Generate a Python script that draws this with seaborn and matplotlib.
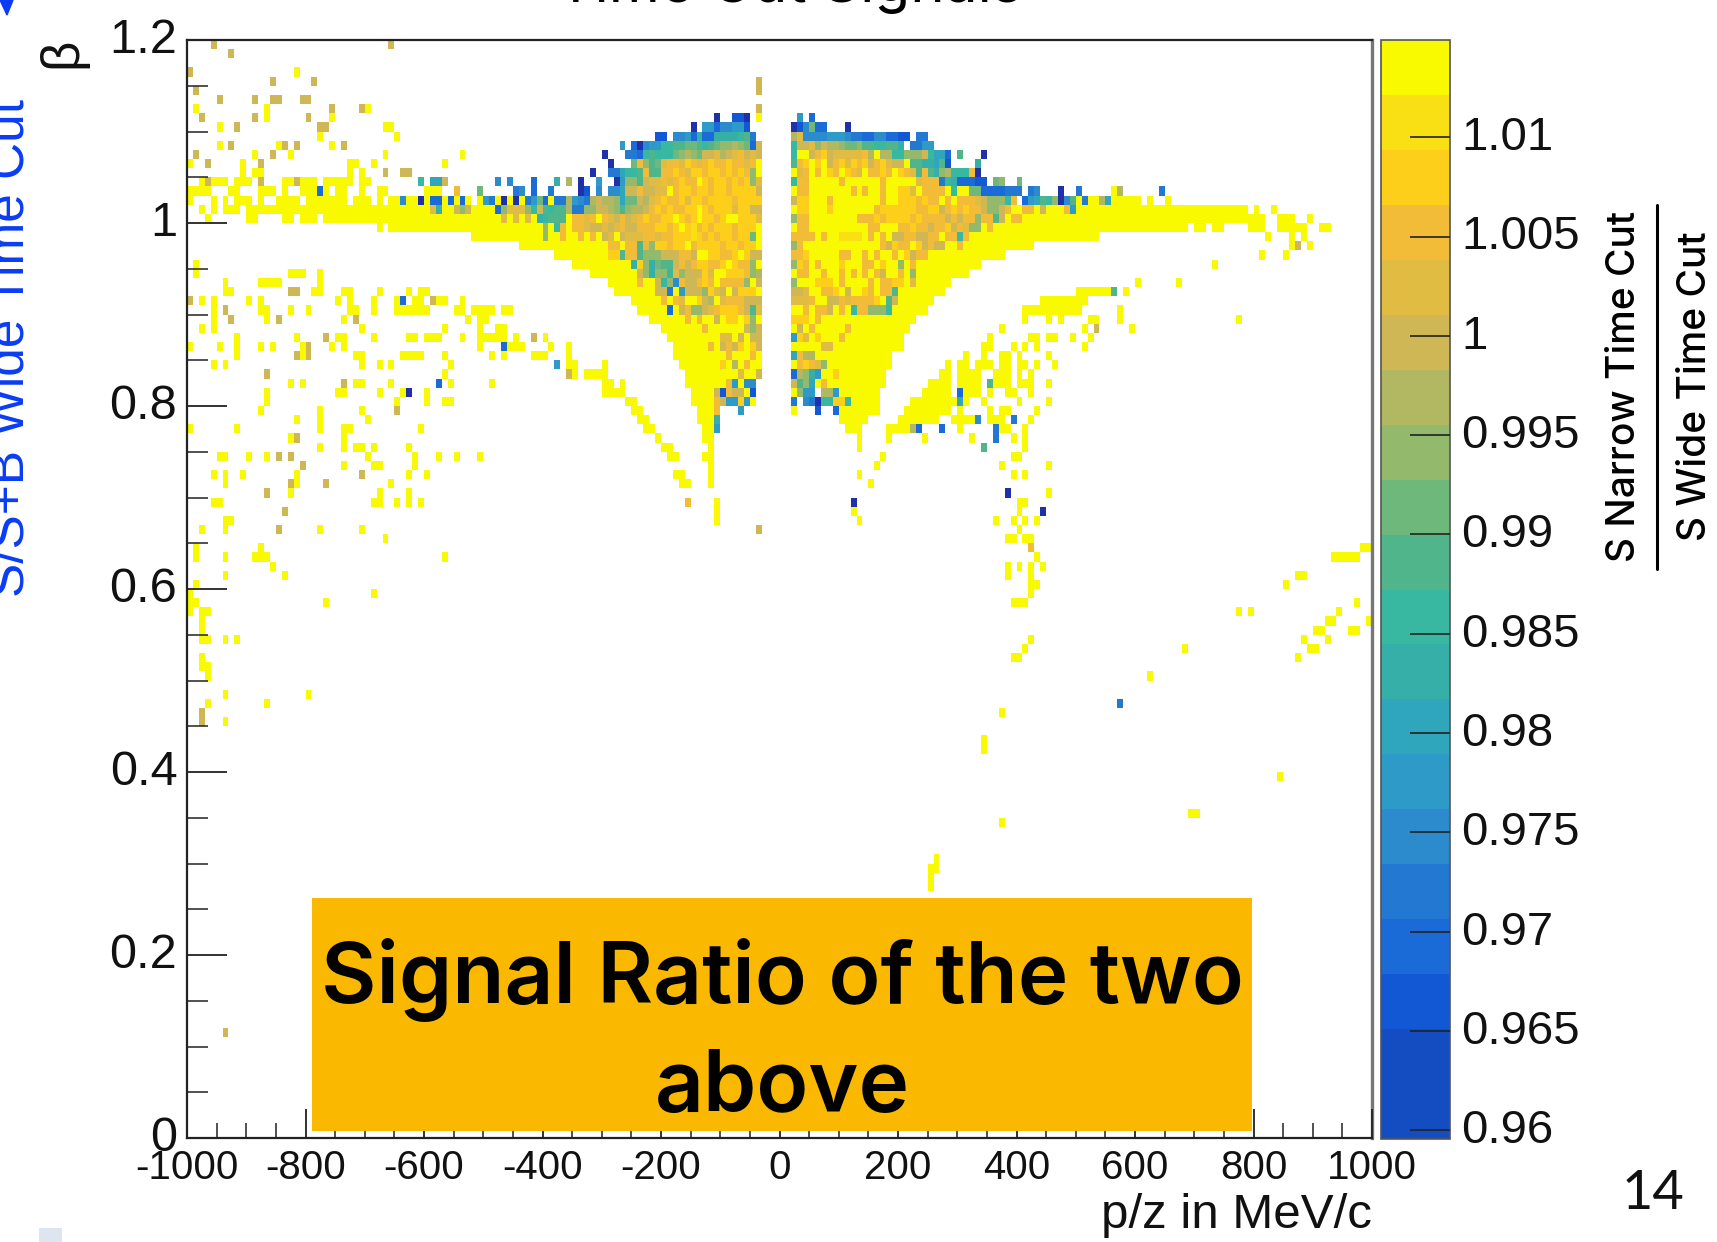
import numpy as np
import pandas as pd
import seaborn as sns
import matplotlib
matplotlib.use("Agg")
import matplotlib.pyplot as plt
from matplotlib.colors import ListedColormap
from matplotlib.patches import Rectangle, Polygon
from matplotlib.transforms import ScaledTranslation

W, H = 1717, 1242

# 200 x 120 bins, row 0 is the top row (beta 1.19-1.20), column 0 is p/z -1000..-990
n_cols = 200
n_rows = 120

x_ticks = [-1000, -800, -600, -400, -200, 0, 200, 400, 600, 800, 1000]
y_ticks = [1.2, 1.0, 0.8, 0.6, 0.4, 0.2, 0.0]
y_tick_labels = ["1.2", "1", "0.8", "0.6", "0.4", "0.2", "0"]
z_ticks = [0.96, 0.965, 0.97, 0.975, 0.98, 0.985, 0.99, 0.995, 1.0, 1.005, 1.01]
z_tick_labels = ["0.96", "0.965", "0.97", "0.975", "0.98", "0.985", "0.99", "0.995", "1", "1.005", "1.01"]
z_min = 0.95956
z_max = 1.0149

# palette of the colour bar, bottom to top
level_colors = ["#144cc2", "#144cc2", "#1258d4", "#1a6ad8", "#2378d2", "#2b8bcd", "#2d9ac8", "#2fa6bb",
                "#35afa8", "#38b8a0", "#50b58a", "#6eb87c", "#93b96c", "#b2b862", "#cfb756", "#e0bc43",
                "#f2bc38", "#fdcf1a", "#f9e015", "#f9f900"]
level_codes = "0123456789abcdefghij"

# bins at the top level (ratio above 1.012): (row, "columns")
yellow_bins = [
    (3, "18"), (7, "1 13 30"), (8, "13 24"), (9, "5 33-34"), (10, "22 35"), (11, "5 15 24"),
    (12, "11 17 33 46"), (13, "0 9 27-28 31 43"), (14, "9 11-12 27 29"),
    (15, "2 4-6 8-10 16-17 19-21 23-27 29-30"),
    (16, "0-3 7-8 12-14 16 19-21 23 25-26 29 32-33 40-42 156"),
    (17, "0 4 6 8-10 12 15-18 20-26 28-30 32 34-35 37-38 40 43 45 47 150 152-153 156-160 162 165"),
    (18, "2 4 6-8 10-51 102-178 180 183"),
    (19, "3 10-11 16-17 19-21 23-96 102-181 184-186 189"),
    (20, "32 34-96 102-168 170-171 173-174 179-181 184-188 191-192"),
    (21, "48-96 102-153 182 186 188"),
    (22, "56-96 102-142 186 189"),
    (23, "62-96 102-137 181 185"),
    (24, "1 65-96 102-133 173"),
    (25, "1 17-19 22 68-96 102-131"),
    (26, "6 12-14 15 22 71-96 102-128 160 167"),
    (27, "6-7 21-22 26-27 32 37 39-40 72-96 102-127 150-155 158"),
    (28, "2 4 10 12 25 27 31 35 38-39 42-43 46 75-96 102-125 144-151"),
    (29, "4 12-13 17 20 27-28 31 35-40 45-46 48-51 53-54 76-96 102-124 141-149 150 157"),
    (30, "4 13 26 47 49-50 78-96 102-122 141 145 147 152-153 157 177"),
    (31, "2 4 29 43 49 52-53 80-96 102-121 137 151 159"),
    (32, "8 18 25-26 31 37-38 40-42 46 49-53 55 60 81-96 102-120 135 142-143 145-146 149 152"),
    (33, "0 5 8 12 14 19 24 26 49 54-56 61 64 82-96 102-120 134-135 139 141 143 151"),
    (34, "8 19 28-29 36-39 43 51 53 58-60 64 82-96 102-118 131 134 137-138 140 145"),
    (35, "4 6 29 32 34 44 64-65 70 83-96 102-118 128 130-131 133-135 137-138 140-141 143 146"),
    (36, "43 65 67-70 84-96 102-117 127-128 130-133 136-138 140 142"),
    (37, "17 19 28-29 34 44 51 70-71 73 84-90 93 102-117 125-128 130-133 136-138 140-142 145"),
    (38, "13 25-26 32 36 40 70-73 85-88 102-116 124-128 131-133 135 138-139 142"),
    (39, "13 35 40 43-44 74-75 85-88 102-116 122-129 131 134 140 145"),
    (40, "12 22 29 75-76 86-88 102 110-116 121-128 130 135 137-138 143"),
    (41, "18 22 30 76-77 86-88 110-114 120-126 129-132 135-137 142"),
    (42, "0 8 22 26-27 39 77-78 87-88 111-113 118-121 130 137-138 141"),
    (43, "17 26 79 87-88 113 118 124 132 139 141"),
    (44, "22 26 28-29 31 37 80-81 88 113 141"),
    (45, "5-6 10 13 30 38 42 45 49 81-82 87-88 117 139-140"),
    (46, "26 31-32 38 88 116 137 145"),
    (47, "4 6 9 18 37 40 82-83 88 113 139 141"),
    (48, "6 18 34 83-84 88 115"),
    (49, "17 32 37 145"),
    (50, "4-5 31-32 35 37 39 89 140-141"),
    (51, "89 112 140"),
    (52, "6-7 89 113 136 139 141 143"),
    (53, "2 6 22 29 140"),
    (54, "33 138-139 141-142"),
    (55, "1 12 198-199"),
    (56, "1 6 11-13 43 143 193-197"),
    (57, "14 138 140 142 144"),
    (58, "6 16 138 142 187-188"),
    (59, "1 142-143 185"),
    (60, "0 31 142"),
    (61, "0-1 23 139-141 197"),
    (62, "0 2-3 177 179 194"),
    (63, "2 192-193 199"),
    (64, "2 190-191 196-197"),
    (65, "2-3 6 8 142 188 192"),
    (66, "141 168 189-190"),
    (67, "2 139-140 187"),
    (68, "2-3"),
    (69, "3 162"),
    (71, "6 20"),
    (72, "3 13"),
    (73, "137"),
    (74, "6"),
    (76, "134"),
    (77, "134"),
    (80, "184"),
    (84, "169-170"),
    (85, "137"),
    (89, "126"),
    (90, "125-126"),
    (91, "125"),
    (92, "125"),
]

# bins close to a ratio of 1 outside the dense core: (row, "columns")
tan_bins = [
    (0, "4 34"), (1, "7"), (3, "0"), (4, "14 21 96"), (5, "1 96"),
    (6, "5 11 14-15 19-20"), (7, "24 29 96"), (8, "2 11 20"), (9, "8 22-23"),
    (11, "7 16 18 26"), (12, "1 14"), (13, "3 12"), (14, "33 36-37"),
    (15, "3 12 18 43"), (22, "187"), (27, "17-18"), (28, "0 41"), (29, "6"),
    (30, "7 15 28"), (31, "153"), (32, "23 58"), (33, "20"), (34, "18 20"),
    (36, "13 64"), (37, "26"), (40, "35"), (43, "18"), (45, "15 17"), (46, "19"),
    (47, "29"), (48, "17 23"), (49, "13"), (51, "16"), (53, "15 96"),
    (73, "2"), (74, "2"), (108, "6"),
]

# low ratio strays: (row, first column, level codes), "." keeps what is below
stray_cells = [
    (15, 39, "9.77"), (16, 22, "3"), (16, 45, "g"), (16, 150, "4"), (16, 157, "d"), (16, 164, "4"),
    (17, 36, "5"), (17, 39, "n"), (17, 41, "33"), (17, 44, "3"), (17, 46, "3"), (17, 151, "4"),
    (17, 154, "d7"), (18, 41, "f8"), (18, 45, "ece"), (27, 156, "a"), (28, 36, "3"),
    (33, 53, "3"), (35, 62, "6"), (37, 42, "3"), (38, 37, "n"), (37, 135, "a"), (38, 130, "3"),
    (39, 130, "7"), (41, 133, "5"), (41, 139, "4"), (42, 122, "d3"), (42, 127, "3"), (42, 136, "4"),
    (43, 136, "4"), (44, 134, "a"), (49, 138, "n"), (50, 84, "g"), (50, 112, "n"), (51, 144, "n"),
    (55, 142, "g"), (72, 157, "4"),
]

# dense core left of p/z = 0: (row, first column, level codes)
core_left = [
    (8, 89, "n..22n.j"),
    (9, 85, "n.66355662"),
    (10, 79, "22.556383388889a4"),
    (11, 73, "6.3n56699aabba9abccdcb3e"),
    (12, 70, "n...4439a999bcdcbeefdefgefe"),
    (13, 71, "n...bgcabfggfhgfghgghggfgj"),
    (14, 68, "n..44799agaagghgfhhghhghghgcj"),
    (15, 52, "5.5...3...8.d.n..6..n6ccaeffgfghggjhghhghghcf"),
    (16, 49, "b.....45.3..4....n2.5.557eegeeffjghhghhghhghhhhe"),
    (17, 49, "j64jnjnj46b3j44d654deddc7bbedfghgghfhhghhhhghhhh"),
    (18, 52, "3cfffc9ea9aad44cceedcacddeghghgghhjhghhhfhhee"),
    (19, 53, "f.f.f.89aaa.ggfg.gfegefghgghhjhghjhhghjjhhhf"),
    (20, 60, "c.9g.ggfeefefgeeggghhghjhighghhhghhhj"),
    (21, 60, "c..g..g.g.ef.efffggfgghhhihghghhghhbj"),
    (22, 71, "gg.ggafchhghh.ghhhhghhghh"[:26]),
    (23, 71, "hhaggaccceeeggejjhhgghjheej"[:26]),
    (24, 75, "8hc8baaegeghhgghjhggcj"),
    (25, 76, "ec8cc9fceeehfjjhhhgcde"[:21]),
    (26, 76, "g..e9c5geeghg.ggggcje"),
    (27, 79, "ee4.6eeechfe.ehhh."),
    (28, 80, "g.gf..hed.fgggeee"),
    (29, 81, "3.egccefghhhgeaf"),
    (30, 84, "g.g..e.hh.hc."),
    (31, 87, "g......ece"),
    (32, 90, "ff.e.ee"),
    (33, 88, "g.egeh.he"),
    (34, 91, "g...g"),
    (35, 90, "h.d.g"),
    (36, 93, "f..e"),
    (37, 91, "g6.55"),
    (38, 89, "e2geej2"),
    (39, 89, "ge66h6j"),
    (40, 89, "g...6"),
    (41, 89, "8"),
    (42, 89, "6"),
]

# dense core right of p/z = 0
core_right = [
    (8, 103, "6.3"),
    (9, 102, "n25b33...n"),
    (10, 102, "df555566654433553322.44"),
    (11, 102, "9eefceddcbbcaa99aa8.4466"),
    (12, 102, "9jjeghefffffgdjdd99ccce9773.a...n"[:33]),
    (13, 102, "aghjhjeghfhghegh feejaa887a2....8".replace(" ", "")),
    (14, 102, "jfgjgjhgjhgfjgghgjhgfaga8cd999gn"),
    (15, 102, "9ggjjjjjgjjjjjjgjjjjjfggg49833322.bc..b"),
    (16, 102, "jggjjjjjjjgjgjjgjjhhfjggggj9jjbb3333444.45...n"),
    (17, 102, "ehhjjjgjjjjjjjjgjjhhhghggjgjgggfeccc9g.367a9cn5a"),
    (18, 102, "jhhjjjhjjjjjjjghhhhhhgghheghghggeccegj.gg.e...g6.6"[:48]),
    (19, 102, "cggjjjjjjjjggghghhhhghggggegeggcggaejgg"),
    (20, 102, "jggjjjjjjjjjjggjjjgghggegghegfccjg"[:34]),
    (21, 102, "ggggjgjjiiiijgjgjeeggeeggjgg9gj."),
    (22, 102, "cgjjjjjjjjjjjjjgehggjhegee.jg"),
    (23, 102, "gghjjjjjggjjgjgjjgjhegg"),
    (24, 102, "chgjgjjjhjjjggjhjjcjg"),
    (25, 102, ".gg..g..g.g.g.ge..g.c"),
    (26, 102, "c...hhh.g....g.gghh.f"),
    (27, 102, "eef..ggh.e..hg.gga"),
    (28, 102, "fffg..eegfggggh.ae"),
    (29, 102, "..g.gge.g.9ggccc9"),
    (30, 102, "hhh.g"),
    (31, 103, "e.g.....g"),
    (32, 102, "6hf.h...g"),
    (33, 107, "ff"),
    (34, 102, "7gdd"),
    (35, 103, "ghgfc"),
    (36, 102, "3dc86..h"),
    (37, 102, "eac7.g"),
    (38, 102, ".c66xdd6"),
    (39, 102, "4x54n99hh9"),
    (40, 106, "2..3"),
]


def parse_columns(text):
    cols = []
    for tok in text.split():
        a, _, b = tok.partition("-")
        cols.extend(range(int(a), int(b or a) + 1))
    return cols


step = (z_max - z_min) / len(level_colors)
level_value = {c: z_min + (i + 0.5) * step for i, c in enumerate(level_codes)}
level_value["n"] = 0.95  # the dark cells are below the axis range

grid = np.full((n_rows, n_cols), np.nan)
for row, text in yellow_bins:
    grid[row, parse_columns(text)] = level_value["j"]
for row, text in tan_bins:
    grid[row, parse_columns(text)] = level_value["e"]
for row, start, codes in stray_cells + core_left + core_right:
    for i, code in enumerate(codes):
        if code == "x":
            grid[row, start + i] = np.nan
        elif code != ".":
            grid[row, start + i] = level_value[code]

df = pd.DataFrame(grid)

sns.set_theme(style="white")
plt.rcParams["font.family"] = ["Liberation Sans", "DejaVu Sans"]


def fx(x):
    return x / W


def fy(y):
    return 1 - y / H


fig = plt.figure(figsize=(W / 100, H / 100), dpi=100, facecolor="white")
ax = fig.add_axes([fx(187), fy(1138), (1372 - 187) / W, (1138 - 40) / H])
cax = fig.add_axes([fx(1381), fy(1139), (1450 - 1381) / W, (1139 - 40) / H])

cmap = ListedColormap(level_colors)
cmap.set_under("#2030a8")
cmap.set_bad((1, 1, 1, 0))

sns.heatmap(df, ax=ax, cbar_ax=cax, cmap=cmap, vmin=z_min, vmax=z_max,
            xticklabels=False, yticklabels=False, cbar_kws={"ticks": z_ticks})

ax.set_axisbelow(False)
cax.set_axisbelow(False)
ax.set_xlabel("")
ax.set_ylabel("")
ax.set_xticks([(v + 1000) / 10 for v in x_ticks])
ax.set_xticklabels([str(v) for v in x_ticks], rotation=0, fontsize=29)
ax.set_xticks(np.arange(0, 201, 5), minor=True)
ax.set_yticks([(1.2 - v) * 100 for v in y_ticks])
ax.set_yticklabels(y_tick_labels, rotation=0, fontsize=35)
ax.set_yticks(np.arange(0, 121, 5), minor=True)
ax.tick_params(axis="x", which="major", direction="in", length=21, width=1.3, color="#222222", pad=8, bottom=True, labelcolor="#111111")
ax.tick_params(axis="x", which="minor", direction="in", length=11, width=1.1, color="#222222", bottom=True)
ax.tick_params(axis="y", which="major", direction="in", length=29, width=1.3, color="#222222", pad=7, left=True, labelcolor="#111111")
ax.tick_params(axis="y", which="minor", direction="in", length=15, width=1.1, color="#222222", left=True)

for side in ["left", "bottom", "top", "right"]:
    ax.spines[side].set_visible(True)
    ax.spines[side].set_color("#222222")
    ax.spines[side].set_linewidth(1.6)
ax.spines["right"].set_color("#777777")
ax.spines["right"].set_linewidth(2.4)

cbar = ax.collections[0].colorbar
cbar.set_ticklabels(z_tick_labels)
cax.tick_params(axis="y", which="major", direction="in", length=29, width=1.2, color="#222222", pad=8,
                labelsize=34, labelcolor="#111111", right=True)
cbar.outline.set_edgecolor("#555555")
cbar.outline.set_linewidth(1.2)

# the labels sit a little above their ticks in the reference
shift_up = ScaledTranslation(0, 3 / 72, fig.dpi_scale_trans)
for label in ax.get_yticklabels() + cax.get_yticklabels():
    label.set_transform(label.get_transform() + shift_up)

fig.text(fx(1372), fy(1228), "p/z in MeV/c", ha="right", va="baseline", fontsize=35.5, color="#111111")
fig.text(fx(76), fy(68), "β", rotation=90, rotation_mode="anchor", ha="left", va="baseline", fontsize=38, color="#111111")

fig.text(fx(23), fy(597), "S/S+B Wide Time Cut", rotation=90, rotation_mode="anchor", ha="left", va="baseline",
         fontsize=37, color="#0a3cf5")
fig.add_artist(Polygon([(fx(0), fy(0)), (fx(13), fy(0)), (fx(7), fy(15))], closed=True, color="#0a3cf5",
                       transform=fig.transFigure))

# orange box over the lower half of the plot
fig.add_artist(Rectangle((fx(312), fy(1131)), (1252 - 312) / W, (1131 - 898) / H, facecolor="#fab900", edgecolor="none",
                         transform=fig.transFigure, zorder=5))
fig.text(fx(782), fy(1033), "Signal Ratio of the two\nabove", ha="center", va="center", fontsize=61.5,
         family=["Inter", "DejaVu Sans"], weight="semibold", color="black", linespacing=1.45, zorder=6)

# fraction at the right of the colour bar
fig.text(fx(1624), fy(386), "S Narrow Time Cut", rotation=90, ha="center", va="center", fontsize=28,
         family=["Inter", "DejaVu Sans"], weight="medium", color="black")
fig.add_artist(plt.Line2D([fx(1657), fx(1657)], [fy(205), fy(569)], color="black", linewidth=2.2, transform=fig.transFigure))
fig.text(fx(1695), fy(386), "S Wide Time Cut", rotation=90, ha="center", va="center", fontsize=28,
         family=["Inter", "DejaVu Sans"], weight="medium", color="black")

fig.text(fx(1653), fy(1209), "14", ha="center", va="baseline", fontsize=39, family=["Lato", "DejaVu Sans"], color="#111111")

# slide leftovers at the edges
fig.text(fx(790), fy(2), "Time Cut Signals", ha="center", va="baseline", fontsize=42,
         family=["Inter", "DejaVu Sans"], color="black")
fig.add_artist(Rectangle((fx(39), fy(1242)), 23 / W, 14 / H, facecolor="#dde6f0", edgecolor="none", transform=fig.transFigure))

fig.savefig("out.png", dpi=100)
